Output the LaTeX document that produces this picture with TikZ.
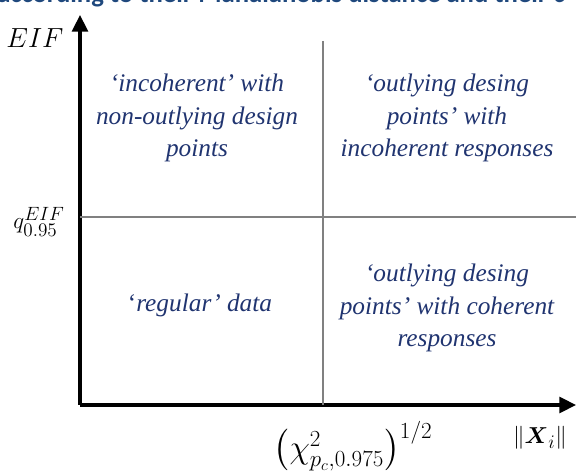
\documentclass[tikz,border=0pt]{standalone}
\usepackage{amsmath,amssymb}
\usepackage{fontspec}
\newfontfamily\quadfont[Ligatures=TeX]{Liberation Serif}
\newfontfamily\ttlfont[Ligatures=TeX]{Carlito}
\usetikzlibrary{arrows.meta,positioning}
\definecolor{quadblue}{RGB}{32,52,112}
\definecolor{ttlblue}{RGB}{31,72,125}
\definecolor{divgray}{RGB}{128,128,128}

\begin{document}
\begin{tikzpicture}[x=0.75pt,y=-0.75pt,
	axis/.style={line width=2.3pt,-{Triangle[length=12.5pt,width=12pt]}},
	divline/.style={line width=1.8pt,divgray},
	quadtext/.style={text=quadblue,align=center,font=\quadfont\itshape\fontsize{19}{24.5}\selectfont},
	axlabel/.style={font=\fontsize{19}{22}\selectfont}]
	\useasboundingbox (0,0) rectangle (576,473);
	
	% Title, cut off at the top
	\begin{scope}
		\clip (0,0) rectangle (576,473);
		\node[anchor=base west,inner sep=0,text=ttlblue,font=\ttlfont\bfseries\fontsize{20}{24}\selectfont] (title) at (-3,3) {according to their Mahalanobis distance and their c};
	\end{scope}
	
	% Axes
	\coordinate (O) at (80,405);
	\coordinate (ytop) at (80,15);
	\coordinate (xend) at (576,405);
	\draw[axis] (O) -- (ytop);
	\draw[axis] (O) -- (xend);
	
	% Thresholds
	\coordinate (qcut) at (80,217);
	\coordinate (chicut) at (323,41);
	\draw[divline] (qcut) -- (qcut -| xend);
	\draw[divline] (chicut) -- (chicut |- O);
	
	% Axis labels
	\node[axlabel,font=\fontsize{20}{24}\selectfont] (eif) at (35,38) {$EIF$};
	\node[axlabel] (qlab) at (39,222) {$q^{EIF}_{0.95}$};
	\node[axlabel,font=\fontsize{26}{30}\selectfont] (chilab) at (353,446) {$\left(\chi^2_{p_c,0.975}\right)^{1/2}$};
	\node[axlabel] (xnorm) at (540,438) {$\|\boldsymbol{X}_i\|$};
	
	% Quadrants
	\node[quadtext] (incoh) at (197,118) {‘incoherent’ with\\non-outlying design\\points};
	\node[quadtext] (outinc) at (447,118) {‘outlying desing\\points’ with\\incoherent responses};
	\node[quadtext] (regdata) at (200,305) {{\upshape ‘}regular’ data};
	\node[quadtext] (outcoh) at (447,308) {‘outlying desing\\points’ with coherent\\responses};
\end{tikzpicture}
\end{document}
